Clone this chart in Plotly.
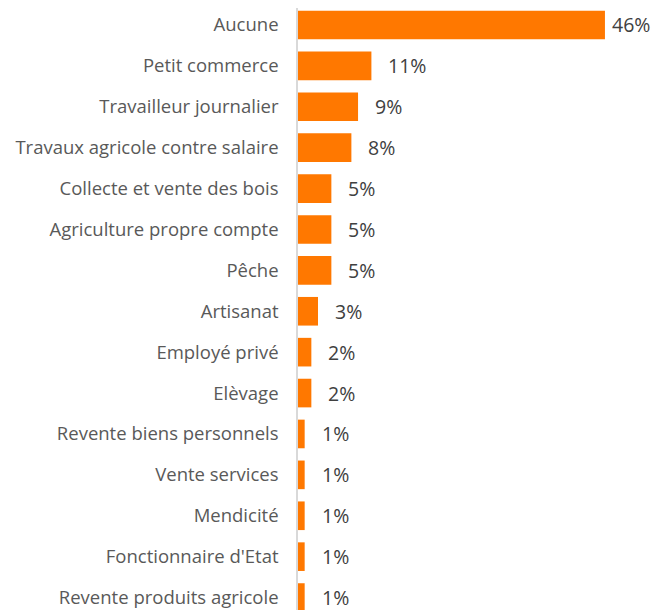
import plotly.graph_objects as go

# categories, top to bottom
categories = [
    "Aucune",
    "Petit commerce",
    "Travailleur journalier",
    "Travaux agricole contre salaire",
    "Collecte et vente des bois",
    "Agriculture propre compte",
    "Pêche",
    "Artisanat",
    "Employé privé",
    "Elèvage",
    "Revente biens personnels",
    "Vente services",
    "Mendicité",
    "Fonctionnaire d'Etat",
    "Revente produits agricole",
]
values = [46, 11, 9, 8, 5, 5, 5, 3, 2, 2, 1, 1, 1, 1, 1]
value_labels = [f"{v}%" for v in values]

BAR_COLOR = "#FF7800"
FONT = "Open Sans"

fig = go.Figure()
fig.add_trace(
    go.Bar(
        x=values,
        y=categories,
        orientation="h",
        width=0.7,
        marker=dict(color=BAR_COLOR, line=dict(width=0)),
        hoverinfo="skip",
    )
)

# value labels to the right of the bars (the longest one is pulled in to fit)
vmax = max(values)
annotations = []
for cat, v, lab in zip(categories, values, value_labels):
    annotations.append(
        dict(
            x=v, y=cat, text=lab, showarrow=False,
            xanchor="left", yanchor="middle",
            xshift=5 if v == vmax else 15,
            font=dict(family=FONT, size=19.5, color="#404040"),
        )
    )

fig.update_layout(
    width=668,
    height=610,
    margin=dict(l=290, r=11, t=0, b=0),
    paper_bgcolor="white",
    plot_bgcolor="white",
    showlegend=False,
    annotations=annotations,
    xaxis=dict(
        range=[0, 55],
        visible=False,
        fixedrange=True,
    ),
    yaxis=dict(
        type="category",
        range=[14.5, -0.415],
        showline=True,
        linecolor="#D9D9D9",
        linewidth=1.5,
        ticks="",
        showgrid=False,
        automargin=False,
        ticklabelstandoff=14,
        tickfont=dict(family=FONT, size=18.5, color="#595959"),
        fixedrange=True,
    ),
)

fig.write_html("out.html")
